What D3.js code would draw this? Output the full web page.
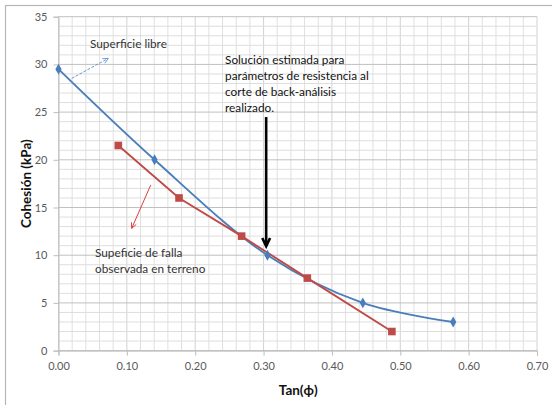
<!DOCTYPE html>
<html>
<head>
<meta charset="utf-8">
<script src="https://cdn.jsdelivr.net/npm/d3@7"></script>
<style>
  body { margin: 0; background: #fff; }
  svg { display: block; }
  text { font-family: Lato, "Open Sans", sans-serif; }
</style>
</head>
<body>
<div id="chart"></div>
<script>
// series: tan(phi) vs cohesion (kPa)
const libreX = [0.0, 0.1405, 0.3057, 0.4452, 0.5774];
const libreY = [29.5, 20, 10, 5, 3];
const fallaX = [0.0875, 0.1763, 0.2679, 0.364, 0.4877];
const fallaY = [21.5, 16, 12, 7.6, 2];

// ticks
const xTicks = [0, 0.1, 0.2, 0.3, 0.4, 0.5, 0.6, 0.7];
const yTicks = [0, 5, 10, 15, 20, 25, 30, 35];

// annotation texts
const noteLibre = ["Superficie libre"];
const noteFalla = ["Supeficie de falla", "observada en terreno"];
const noteSolucion = ["Solución estimada para", "parámetros de resistencia al", "corte de back-análisis", "realizado."];

const W = 552, H = 405;
const plot = {left: 58.5, right: 537, top: 16.7, bottom: 350.6};

const svg = d3.select("#chart").append("svg")
    .attr("width", W).attr("height", H);

// outer chart frame (only top & left edges show in the crop)
svg.append("rect")
    .attr("x", 5.5).attr("y", 5.5)
    .attr("width", W + 10).attr("height", H + 10)
    .attr("fill", "none").attr("stroke", "#b5b5b5").attr("stroke-width", 1.2);

const x = d3.scaleLinear().domain([0, 0.7]).range([plot.left, plot.right]);
const y = d3.scaleLinear().domain([0, 35]).range([plot.bottom, plot.top]);

// gridlines
const grid = svg.append("g").attr("id", "grid");
const xMinor = d3.range(0, 36).map(i => i * 0.02);
const yMinor = d3.range(0, 36);
grid.selectAll(".vx").data(xMinor).enter().append("line")
    .attr("x1", d => x(d)).attr("x2", d => x(d))
    .attr("y1", plot.top).attr("y2", plot.bottom)
    .attr("stroke", d => (Math.round(d * 100) % 10 === 0) ? "#d2d2d2" : "#e0e0e0")
    .attr("stroke-width", 1);
grid.selectAll(".hy").data(yMinor).enter().append("line")
    .attr("x1", plot.left).attr("x2", plot.right)
    .attr("y1", d => y(d)).attr("y2", d => y(d))
    .attr("stroke", d => (d % 5 === 0) ? "#c0c0c0" : "#dedede")
    .attr("stroke-width", 1);

// axes
const xAxis = svg.append("g")
    .attr("transform", "translate(0," + plot.bottom + ")")
    .call(d3.axisBottom(x).tickValues(xTicks).tickFormat(d3.format(".2f")).tickSize(5).tickPadding(7));
const yAxis = svg.append("g")
    .attr("transform", "translate(" + plot.left + ",0)")
    .call(d3.axisLeft(y).tickValues(yTicks).tickSize(5).tickPadding(6));
[xAxis, yAxis].forEach(a => {
    a.select(".domain").attr("stroke", "#bdbdbd");
    a.selectAll(".tick line").attr("stroke", "#bdbdbd");
    a.selectAll(".tick text")
        .attr("fill", "#595959")
        .style("font-size", "11px")
        .style("font-family", "Lato, 'Open Sans', sans-serif");
});

// axis titles
svg.append("text")
    .attr("x", (plot.left + plot.right) / 2 + 0.5).attr("y", 395)
    .attr("text-anchor", "middle")
    .style("font-size", "13.5px").style("font-weight", "bold").attr("fill", "#111")
    .text("Tan(ϕ)");
svg.append("text")
    .attr("transform", "translate(31," + ((plot.top + plot.bottom) / 2) + ") rotate(-90)")
    .attr("text-anchor", "middle")
    .style("font-size", "13.5px").style("font-weight", "bold").attr("fill", "#111")
    .text("Cohesión (kPa)");

// series lines
const libre = libreX.map((v, i) => [v, libreY[i]]);
const falla = fallaX.map((v, i) => [v, fallaY[i]]);

svg.append("path")
    .datum(libre)
    .attr("d", d3.line().x(d => x(d[0])).y(d => y(d[1])).curve(d3.curveCatmullRom.alpha(0.5)))
    .attr("fill", "none").attr("stroke", "#4A7EBB").attr("stroke-width", 1.9);
svg.append("path")
    .datum(falla)
    .attr("d", d3.line().x(d => x(d[0])).y(d => y(d[1])))
    .attr("fill", "none").attr("stroke", "#BE4B48").attr("stroke-width", 1.9);

// markers
svg.selectAll(".diamond").data(libre).enter().append("path")
    .attr("d", d3.symbol().type(d3.symbolDiamond).size(34))
    .attr("transform", d => "translate(" + x(d[0]) + "," + y(d[1]) + ")")
    .attr("fill", "#4A7EBB");
svg.selectAll(".square").data(falla).enter().append("rect")
    .attr("x", d => x(d[0]) - 3.8).attr("y", d => y(d[1]) - 3.8)
    .attr("width", 7.6).attr("height", 7.6)
    .attr("fill", "#BE4B48");

// arrows drawn in data coordinates
function arrow(from, to, color, width, head, dash) {
    const x1 = x(from[0]), y1 = y(from[1]), x2 = x(to[0]), y2 = y(to[1]);
    const ang = Math.atan2(y2 - y1, x2 - x1);
    svg.append("line")
        .attr("x1", x1).attr("y1", y1).attr("x2", x2).attr("y2", y2)
        .attr("stroke", color).attr("stroke-width", width)
        .attr("stroke-dasharray", dash || null);
    const a1 = ang + Math.PI - 0.45, a2 = ang + Math.PI + 0.45;
    svg.append("path")
        .attr("d", "M" + (x2 + head * Math.cos(a1)) + "," + (y2 + head * Math.sin(a1)) +
            "L" + x2 + "," + y2 +
            "L" + (x2 + head * Math.cos(a2)) + "," + (y2 + head * Math.sin(a2)))
        .attr("fill", "none").attr("stroke", color).attr("stroke-width", width)
        .attr("stroke-linejoin", "miter");
}
arrow([0.0193, 28.53], [0.0728, 30.63], "#6B9BD6", 1, 6, "3,1.5");
arrow([0.1349, 17.35], [0.1071, 12.82], "#D9403B", 1, 6);
arrow([0.3038, 24.48], [0.3038, 10.95], "#000", 2.6, 9);

// annotation text blocks
function note(lines, pos, color) {
    const t = svg.append("text")
        .attr("x", x(pos[0])).attr("y", y(pos[1]))
        .style("font-size", "11.8px").attr("fill", color);
    t.selectAll("tspan").data(lines).enter().append("tspan")
        .attr("x", x(pos[0])).attr("dy", (d, i) => i === 0 ? 0 : 16)
        .text(d => d);
}
note(noteLibre, [0.046, 31.75], "#333");
note(noteFalla, [0.0534, 9.8], "#333");
note(noteSolucion, [0.2436, 30.0], "#111");
</script>
</body>
</html>
